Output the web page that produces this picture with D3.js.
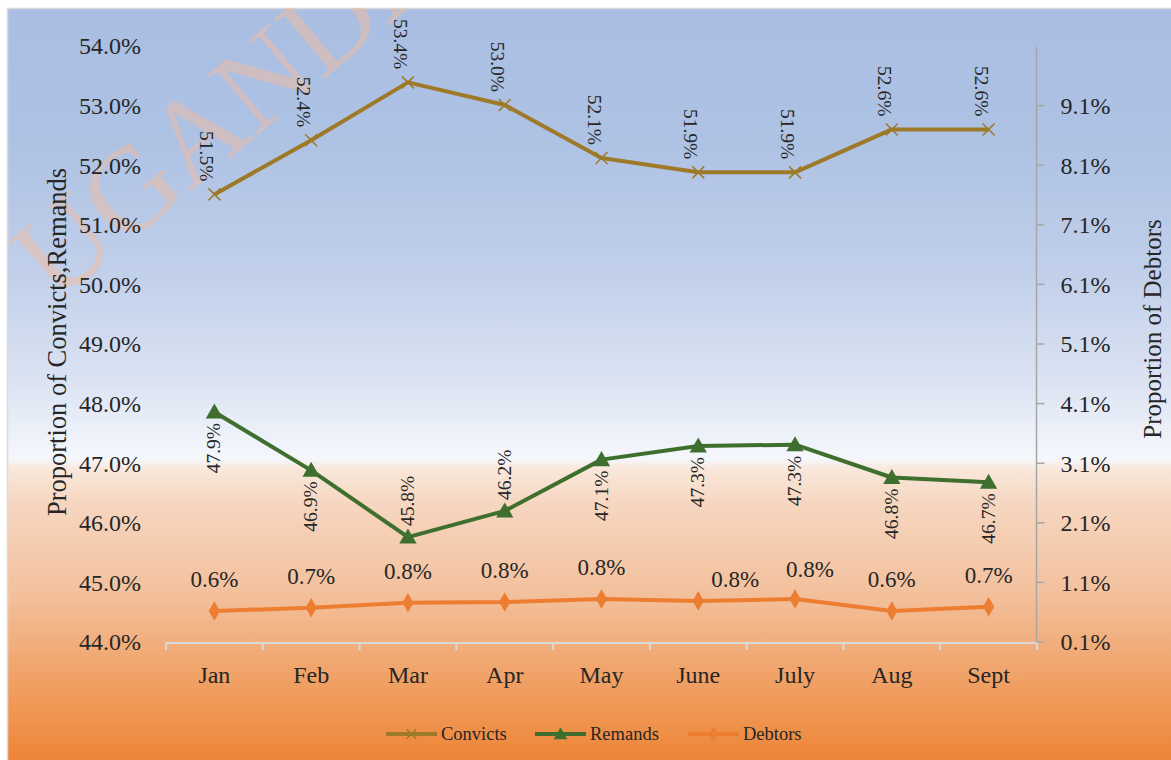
<!DOCTYPE html>
<html>
<head>
<meta charset="utf-8">
<script src="https://cdn.jsdelivr.net/npm/d3@7"></script>
<style>
  html, body { margin: 0; padding: 0; background: #ffffff; }
  svg { display: block; }
  text { font-family: "Liberation Serif", "DejaVu Serif", serif; fill: #262626; }
</style>
</head>
<body>
<svg id="chart" width="1171" height="760"></svg>
<script>
// ---------- data ----------
const months = ["Jan", "Feb", "Mar", "Apr", "May", "June", "July", "Aug", "Sept"];
const convicts = [51.51, 52.42, 53.39, 53.01, 52.12, 51.88, 51.88, 52.6, 52.6];
const remands  = [47.86, 46.88, 45.76, 46.2, 47.06, 47.29, 47.31, 46.76, 46.68];
const debtors  = [0.62, 0.675, 0.76, 0.77, 0.82, 0.79, 0.82, 0.62, 0.69];
const leftTicks  = [44, 45, 46, 47, 48, 49, 50, 51, 52, 53, 54];
const rightTicks = [0.1, 1.1, 2.1, 3.1, 4.1, 5.1, 6.1, 7.1, 8.1, 9.1];
const seriesNames = ["Convicts", "Remands", "Debtors"];

// ---------- layout / style ----------
const W = 1171, H = 760;
const plot = { left: 166, right: 1037, top: 46, bottom: 642 };
const colors = { Convicts: "#9e7a28", Remands: "#3f6f2e", Debtors: "#ed7d31" };
const remandLabelAbove = ["Mar", "Apr"];
const debtorLabelNudge = { June: [37, 10], July: [15, 2] };

const svg = d3.select("#chart");

// background gradient
const defs = svg.append("defs");
const grad = defs.append("linearGradient").attr("id", "bg")
  .attr("x1", 0).attr("y1", 0).attr("x2", 0).attr("y2", 1);
[[0, "#a9bee2"], [0.18, "#aec2e4"], [0.36, "#c2d0ea"], [0.5, "#dce4f3"], [0.6, "#f5f7fc"],
 [0.612, "#f9e8dc"], [0.66, "#f6d6c0"], [0.78, "#f3c09c"], [0.9, "#f09f62"], [1, "#ee8538"]]
  .forEach(([o, c]) => grad.append("stop").attr("offset", o).attr("stop-color", c));

svg.append("rect").attr("x", 7).attr("y", 8).attr("width", W - 7).attr("height", H - 8)
  .attr("fill", "url(#bg)");
svg.append("path").attr("d", `M7.5,${H} V8.5 H${W}`).attr("fill", "none")
  .attr("stroke", "#d9d9d9").attr("stroke-width", 1.5);

// watermark (clipped by the chart frame, as in the original)
defs.append("clipPath").attr("id", "frame").append("rect")
  .attr("x", 7).attr("y", 8).attr("width", W - 7).attr("height", H - 8);
svg.append("g").attr("clip-path", "url(#frame)")
  .append("text").attr("transform", "translate(56,304) rotate(-40)")
  .style("font-size", "120px").style("fill", "#f2bca0").style("fill-opacity", 0.5)
  .text("UGANDA");

// scales
const x = d3.scalePoint().domain(months).range([plot.left, plot.right]).padding(0.5);
const xBand = d3.scaleBand().domain(months).range([plot.left, plot.right]);
const yL = d3.scaleLinear().domain([44, 54]).range([plot.bottom, plot.top]);
const yR = d3.scaleLinear().domain([0.1, 10.1]).range([plot.bottom, plot.top]);

// x axis
const xAxis = svg.append("g").attr("transform", `translate(0,${plot.bottom + 1})`);
xAxis.append("line").attr("x1", plot.left).attr("x2", plot.right)
  .attr("stroke", "#d9d9d9").attr("stroke-width", 2);
const bounds = months.map(m => xBand(m)).concat([plot.right]);
xAxis.selectAll("line.tk").data(bounds).join("line").attr("class", "tk")
  .attr("x1", d => d).attr("x2", d => d).attr("y1", 0).attr("y2", 7)
  .attr("stroke", "#d9d9d9").attr("stroke-width", 2);
xAxis.selectAll("text").data(months).join("text")
  .attr("x", d => x(d)).attr("y", 40).attr("text-anchor", "middle")
  .style("font-size", "24px").text(d => d);

// left axis (labels only)
const fmt1 = d3.format(".1f");
svg.append("g").selectAll("text").data(leftTicks).join("text")
  .attr("x", 141).attr("y", d => yL(d)).attr("dy", "0.35em").attr("text-anchor", "end")
  .style("font-size", "24px").text(d => fmt1(d) + "%");

// right axis
const rAxis = svg.append("g").attr("transform", `translate(${plot.right - 0.5},0)`);
rAxis.append("line").attr("y1", plot.top + 1).attr("y2", plot.bottom)
  .attr("stroke", "#a6a6a6").attr("stroke-width", 1.5);
rAxis.selectAll("line.tk").data(rightTicks).join("line").attr("class", "tk")
  .attr("x1", 0).attr("x2", 8).attr("y1", d => yR(d)).attr("y2", d => yR(d))
  .attr("stroke", "#a6a6a6").attr("stroke-width", 1.5);
rAxis.selectAll("text").data(rightTicks).join("text")
  .attr("x", 24).attr("y", d => yR(d)).attr("dy", "0.35em")
  .style("font-size", "24px").text(d => fmt1(d) + "%");

// axis titles
svg.append("text").attr("transform", `translate(66,342) rotate(-90)`)
  .attr("text-anchor", "middle").style("font-size", "26.5px").text("Proportion of Convicts,Remands");
svg.append("text").attr("transform", `translate(1161,329) rotate(-90)`)
  .attr("text-anchor", "middle").style("font-size", "25px").text("Proportion of Debtors");

// markers
function drawMarker(g, name, cx, cy, scale) {
  const s = scale || 1;
  if (name === "Convicts") {
    g.append("path").attr("d", `M${cx - 6 * s},${cy - 6 * s}L${cx + 6 * s},${cy + 6 * s}M${cx - 6 * s},${cy + 6 * s}L${cx + 6 * s},${cy - 6 * s}`)
      .attr("stroke", colors.Convicts).attr("stroke-width", 1.5).attr("fill", "none");
  } else if (name === "Remands") {
    g.append("path").attr("d", d3.symbol().type(d3.symbolTriangle).size(130 * s * s)())
      .attr("transform", `translate(${cx},${cy + 1.5 * s})`).attr("fill", colors.Remands);
  } else {
    g.append("path").attr("d", d3.symbol().type(d3.symbolDiamond).size(110 * s * s)())
      .attr("transform", `translate(${cx},${cy})`).attr("fill", colors.Debtors);
  }
}

const line = d3.line();
const seriesData = [
  { name: "Convicts", vals: convicts, y: yL },
  { name: "Remands", vals: remands, y: yL },
  { name: "Debtors", vals: debtors, y: yR }
];

seriesData.forEach(s => {
  const pts = months.map((m, i) => [x(m), s.y(s.vals[i])]);
  const g = svg.append("g");
  g.append("path").attr("d", line(pts)).attr("fill", "none")
    .attr("stroke", colors[s.name]).attr("stroke-width", 4).attr("stroke-linejoin", "round");
  pts.forEach(p => drawMarker(g, s.name, p[0], p[1]));
});

// data labels
// Convicts: rotated +90, above the point
svg.append("g").selectAll("text").data(months).join("text")
  .attr("transform", (m, i) => `translate(${x(m) - 14},${yL(convicts[i]) - 13}) rotate(90)`)
  .attr("text-anchor", "end").style("font-size", "19.5px")
  .text((m, i) => fmt1(convicts[i]) + "%");

// Remands: rotated -90, below (or above) the point
svg.append("g").selectAll("text").data(months).join("text")
  .attr("transform", (m, i) => {
    const above = remandLabelAbove.includes(m);
    return `translate(${x(m) + 6},${yL(remands[i]) + (above ? -11 : 11)}) rotate(-90)`;
  })
  .attr("text-anchor", m => remandLabelAbove.includes(m) ? "start" : "end")
  .style("font-size", "19.5px")
  .text((m, i) => fmt1(remands[i]) + "%");

// Debtors: horizontal, above
svg.append("g").selectAll("text").data(months).join("text")
  .attr("x", m => x(m) + (debtorLabelNudge[m] ? debtorLabelNudge[m][0] : 0))
  .attr("y", (m, i) => yR(debtors[i]) - 24 + (debtorLabelNudge[m] ? debtorLabelNudge[m][1] : 0))
  .attr("text-anchor", "middle").style("font-size", "23px")
  .text((m, i) => fmt1(debtors[i]) + "%");

// legend
const legendX = [386, 535, 688];
const legend = svg.append("g");
seriesNames.forEach((n, i) => {
  const lx = legendX[i], ly = 734;
  legend.append("line").attr("x1", lx).attr("x2", lx + 51).attr("y1", ly).attr("y2", ly)
    .attr("stroke", colors[n]).attr("stroke-width", 4);
  drawMarker(legend, n, lx + 25.5, ly, 0.8);
  legend.append("text").attr("x", lx + 55).attr("y", ly).attr("dy", "0.35em")
    .style("font-size", "18.5px").text(n);
});
</script>
</body>
</html>
